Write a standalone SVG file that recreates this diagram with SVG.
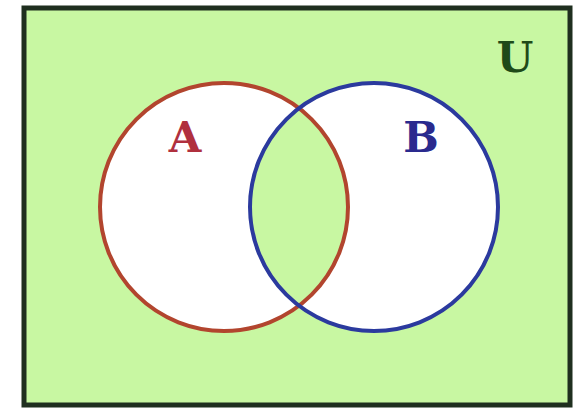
<svg xmlns="http://www.w3.org/2000/svg" width="580" height="408" viewBox="0 0 580 408">
  <style>
    .lbl { font-family: "DejaVu Serif", "Liberation Serif", serif; font-size: 42px; font-weight: bold; text-anchor: middle; }
  </style>
  <defs>
    <clipPath id="clipA"><circle cx="224" cy="207" r="124"/></clipPath>
  </defs>
  <rect x="0" y="0" width="580" height="408" fill="#ffffff"/>
  <g id="U">
    <rect x="24" y="8" width="546" height="397" fill="#c8f7a2" stroke="#1f2f1f" stroke-width="5"/>
    <text class="lbl" x="515" y="72" fill="#1e4a18">U</text>
  </g>
  <g id="fills">
    <circle cx="224" cy="207" r="124" fill="#ffffff"/>
    <circle cx="374" cy="207" r="124" fill="#ffffff"/>
    <circle cx="374" cy="207" r="124" fill="#c8f7a2" clip-path="url(#clipA)"/>
  </g>
  <g id="A">
    <circle cx="224" cy="207" r="124" fill="none" stroke="#b2452e" stroke-width="4"/>
    <text class="lbl" x="185" y="152" fill="#b0303e">A</text>
  </g>
  <g id="B">
    <circle cx="374" cy="207" r="124" fill="none" stroke="#2b3a9e" stroke-width="4"/>
    <text class="lbl" x="421" y="152" fill="#2a2a8e">B</text>
  </g>
</svg>
